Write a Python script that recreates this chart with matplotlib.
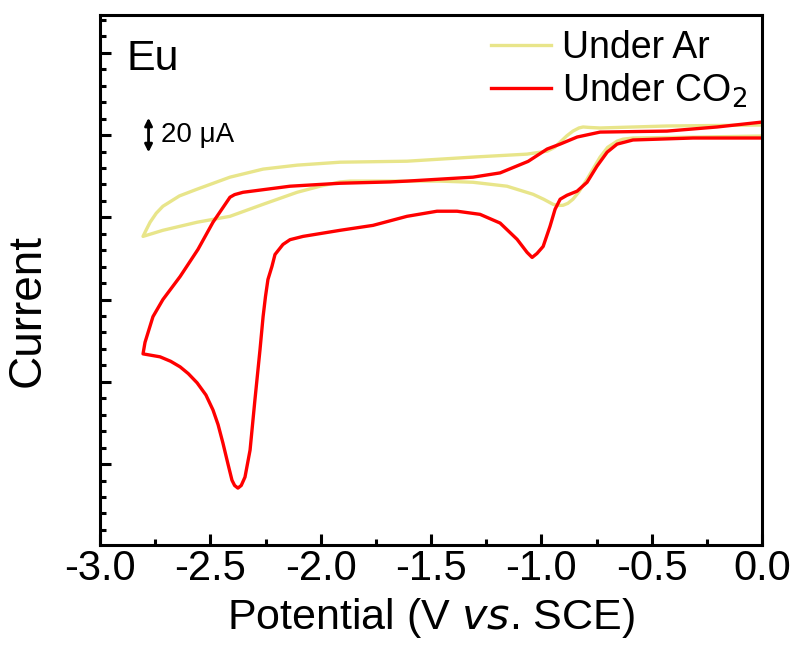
import numpy as np
import matplotlib
matplotlib.use("Agg")
import matplotlib.pyplot as plt
from matplotlib.ticker import MultipleLocator, NullFormatter, FuncFormatter

plt.rcParams['font.family'] = ['Liberation Sans', 'DejaVu Sans']

# CV under Ar: potential (V vs SCE) and current (uA), scan starts at 0 V going negative
ar_v = [0.0, -0.281, -0.585, -0.630, -0.657, -0.700, -0.734, -0.793, -0.830, -0.857,
        -0.880, -0.902, -0.925, -0.947, -0.990, -1.038, -1.156, -1.310, -1.459, -1.867,
        -1.912, -2.000, -2.107, -2.261, -2.411, -2.560, -2.715, -2.805,
        -2.790, -2.773, -2.745, -2.715, -2.640, -2.560, -2.411, -2.261, -2.107, -1.912,
        -1.609, -1.310, -1.065, -0.974, -0.940, -0.915, -0.885, -0.857, -0.830, -0.811,
        -0.780, -0.734, -0.431, 0.0]
ar_i = [-0.6, -1.2, -1.8, -2.5, -3.7, -7.5, -13.4, -26.8, -34.5, -39.0,
        -41.5, -42.7, -42.8, -42.1, -39.0, -36.0, -31.1, -28.7, -28.0, -28.0,
        -28.5, -31.0, -34.8, -42.1, -49.4, -53.0, -57.9, -61.6,
        -57.5, -53.0, -47.5, -43.3, -37.0, -32.9, -25.6, -20.7, -18.3, -16.5,
        -15.9, -13.4, -11.6, -9.8, -7.5, -4.3, -0.5, 2.4, 4.3, 4.9,
        4.6, 4.3, 5.5, 6.1]

# CV under CO2
co2_v = [0.0, -0.313, -0.585, -0.657, -0.702, -0.748, -0.793, -0.838, -0.884, -0.915,
         -0.938, -0.961, -0.992, -1.020, -1.042, -1.065, -1.110, -1.187, -1.278, -1.382,
         -1.473, -1.609, -1.763, -1.912, -2.080, -2.139, -2.171, -2.207, -2.221, -2.239,
         -2.250, -2.261, -2.275, -2.298, -2.320, -2.343, -2.360, -2.375, -2.390, -2.402,
         -2.420, -2.443, -2.465, -2.488, -2.520, -2.560, -2.600, -2.637, -2.680, -2.728,
         -2.805,
         -2.796, -2.760, -2.715, -2.637, -2.556, -2.488, -2.411, -2.390, -2.352, -2.139,
         -1.912, -1.686, -1.609, -1.310, -1.187, -1.060, -0.974, -0.915, -0.838, -0.734,
         -0.431, -0.204, 0.0]
co2_i = [-1.8, -1.8, -3.0, -5.5, -10.4, -18.9, -28.7, -34.1, -36.6, -39.0,
         -45.1, -55.5, -67.7, -72.0, -74.4, -71.3, -63.4, -53.5, -48.2, -46.3,
         -46.3, -49.4, -54.9, -57.9, -61.6, -63.6, -66.5, -72.6, -79.9, -87.8,
         -98.0, -110.4, -130.5, -161.0, -191.5, -207.9, -213.0, -214.6, -213.0, -209.8,
         -200.0, -187.2, -176.0, -167.1, -158.0, -150.6, -145.0, -140.9, -137.5, -134.8,
         -133.0,
         -126.0, -110.4, -100.0, -86.0, -69.5, -53.0, -37.8, -36.2, -34.8, -31.1,
         -29.3, -28.5, -28.0, -25.6, -23.0, -16.0, -8.5, -5.5, -1.2, 1.8,
         2.4, 4.9, 7.9]

fig, ax = plt.subplots(figsize=(7.98, 6.5), dpi=100)
fig.subplots_adjust(left=0.1253, right=0.955, top=0.977, bottom=0.162)

ax.plot(ar_v, ar_i, color='#E8E58A', lw=2.4, label='Under Ar', solid_joinstyle='round')
ax.plot(co2_v, co2_i, color='#FF0000', lw=2.4, label='Under CO$_2$', solid_joinstyle='round')

ax.set_xlim(-3.0, 0.0)
ax.set_ylim(-249, 73)
ax.xaxis.set_major_locator(MultipleLocator(0.5))
ax.xaxis.set_minor_locator(MultipleLocator(0.25))
ax.xaxis.set_major_formatter(FuncFormatter(lambda v, p: '%.1f' % (v + 0.0)))
ax.yaxis.set_major_locator(MultipleLocator(50))
ax.yaxis.set_minor_locator(MultipleLocator(10))
ax.yaxis.set_major_formatter(NullFormatter())
ax.tick_params(which='both', direction='in', top=False, right=False, width=2.2)
ax.tick_params(which='major', length=8, labelsize=30, pad=3)
ax.tick_params(which='minor', length=4)
for s in ax.spines.values():
    s.set_linewidth(2.2)

ax.set_xlabel('Potential (V $\\it{vs}$. SCE)', fontsize=31, labelpad=5)
ax.set_ylabel('Current', fontsize=33)
ax.yaxis.set_label_coords(-0.076, 0.443)

ax.text(0.04, 0.955, 'Eu', transform=ax.transAxes, fontsize=31, va='top')

# scale bar for current
ax.annotate('', xy=(-2.78, -10.5), xytext=(-2.78, 10.5),
            arrowprops=dict(arrowstyle='<|-|>', color='black', lw=2,
                            mutation_scale=11, shrinkA=0, shrinkB=0))
ax.text(-2.725, 0, '20 \u03bcA', fontsize=20, va='center')

leg = ax.legend(loc='upper right', frameon=False, fontsize=27, handlelength=1.6,
                borderaxespad=0.0, labelspacing=0.15, handletextpad=0.3)

fig.savefig('out.png', dpi=100)
